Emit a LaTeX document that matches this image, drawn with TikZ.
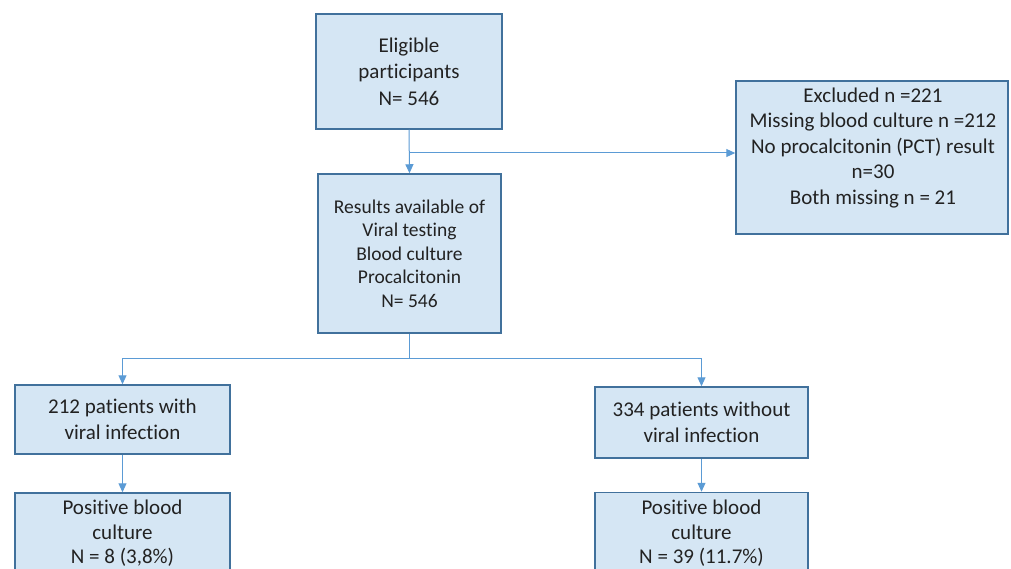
\documentclass[tikz,border=0pt]{standalone}
\usepackage{fontspec}
\setmainfont{Carlito}[Ligatures=NoCommon]
\usetikzlibrary{arrows.meta}
\definecolor{boxfill}{HTML}{D5E6F4}
\definecolor{boxdraw}{HTML}{41719C}
\definecolor{linec}{HTML}{5B9BD5}
\definecolor{txt}{HTML}{222222}
\begin{document}
\begin{tikzpicture}[x=1pt,y=-1pt,
  box/.style={draw=boxdraw,fill=boxfill,line width=1.5pt,inner sep=0pt,
              text=txt,align=center,font=\fontsize{21}{26.5}\selectfont},
  label text/.style={text=txt,align=center,inner sep=0pt,font=\fontsize{21}{25.5}\selectfont},
  conn/.style={draw=linec,line width=1pt,-{Triangle[length=9pt,width=8pt]}},
  plain/.style={draw=linec,line width=1pt}
]
\useasboundingbox (0,0) rectangle (1011,569);
\fill[white] (0,0) rectangle (1011,569);
\clip (0,0) rectangle (1011,569);

\node[box,minimum width=186pt,minimum height=115pt] (elig) at (409,71.5)
  {Eligible\\participants\\N= 546};
\node[box,minimum width=183pt,minimum height=159pt,font=\fontsize{19.5}{23.5}\selectfont] (res) at (409.5,253.5)
  {Results available of\\Viral testing\\Blood culture\\Procalcitonin\\N= 546};
\node[box,minimum width=272pt,minimum height=153pt] (exc) at (872,157.5) {};
\node[label text] (exctxt) at (873,148)
  {Excluded n =221\\Missing blood culture n =212\\No procalcitonin (PCT) result\\n=30\\Both missing n = 21};

\node[box,minimum width=215pt,minimum height=69pt,font=\fontsize{21}{26}\selectfont] (vir) at (122.5,419.5)
  {212 patients with\\viral infection};
\node[box,minimum width=213pt,minimum height=71pt,font=\fontsize{21}{26}\selectfont] (novir) at (701.5,422.5)
  {334 patients without\\viral infection};

\node[box,minimum width=215pt,minimum height=107pt] (posv) at (122.5,546.5) {};
\node[label text,font=\fontsize{21}{24.5}\selectfont] (posvtxt) at (122.5,533.5)
  {Positive blood\\culture\\N = 8 (3,8\%)};
\node[box,minimum width=213pt,minimum height=107pt] (posn) at (701.5,546) {};
\node[label text,font=\fontsize{21}{24.5}\selectfont] (posntxt) at (701.5,533.5)
  {Positive blood\\culture\\N = 39 (11.7\%)};

\draw[conn] (elig.south) -- (res.north);
\coordinate (split) at (409.5,153);
\draw[conn] (split) -- (split -| exc.west);

\coordinate (fork) at (409.5,358);
\draw[plain] (res.south) -- (fork);
\draw[conn] (fork) -| (vir.north);
\draw[conn] (fork) -| (novir.north);

\draw[conn] (vir.south) -- (posv.north);
\draw[conn] (novir.south) -- (posn.north);
\end{tikzpicture}
\end{document}
